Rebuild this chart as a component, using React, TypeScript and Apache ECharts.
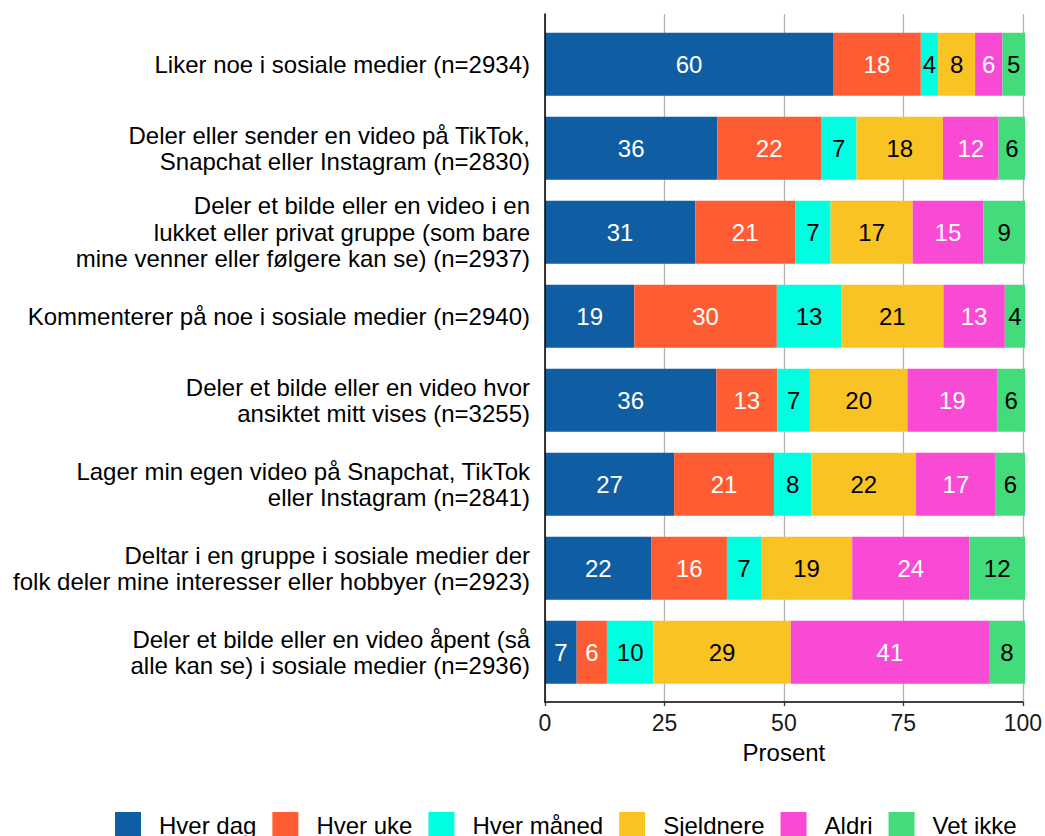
import React, { useEffect, useRef } from "react";
import * as echarts from "echarts";

const categories = [
  "Liker noe i sosiale medier (n=2934)",
  "Deler eller sender en video på TikTok,\nSnapchat eller Instagram (n=2830)",
  "Deler et bilde eller en video i en\nlukket eller privat gruppe (som bare\nmine venner eller følgere kan se) (n=2937)",
  "Kommenterer på noe i sosiale medier (n=2940)",
  "Deler et bilde eller en video hvor\nansiktet mitt vises (n=3255)",
  "Lager min egen video på Snapchat, TikTok\neller Instagram (n=2841)",
  "Deltar i en gruppe i sosiale medier der\nfolk deler mine interesser eller hobbyer (n=2923)",
  "Deler et bilde eller en video åpent (så\nalle kan se) i sosiale medier (n=2936)",
];

const hverDag = [60.0, 35.9, 31.3, 18.6, 35.7, 26.9, 22.2, 6.6];
const hverUke = [18.3, 21.6, 20.8, 29.7, 12.7, 20.8, 15.7, 6.3];
const hverManed = [3.6, 7.4, 7.4, 13.4, 6.8, 7.8, 7.1, 9.7];
const sjeldnere = [7.7, 18.0, 17.1, 21.3, 20.3, 21.8, 19.0, 28.6];
const aldri = [5.7, 11.6, 14.7, 12.8, 18.7, 16.6, 24.4, 41.3];
const vetIkke = [4.7, 5.5, 8.7, 4.2, 5.8, 6.1, 11.6, 7.5];

const seriesNames = ["Hver dag", "Hver uke", "Hver måned", "Sjeldnere", "Aldri", "Vet ikke"];
const seriesData = [hverDag, hverUke, hverManed, sjeldnere, aldri, vetIkke];
const colors = ["#0F5EA3", "#FF5C33", "#00FFE1", "#F9C423", "#F94AD6", "#42DC7A"];
const labelColors = ["#FFFFFF", "#FFFFFF", "#000000", "#000000", "#FFFFFF", "#000000"];

const xTicks = [0, 25, 50, 75, 100];

const FONT = "'Liberation Sans', Arial, sans-serif";

export default function App() {
  const ref = useRef<HTMLDivElement>(null);

  useEffect(() => {
    document.body.style.margin = "0";
    const chart = echarts.init(ref.current!, null, { renderer: "svg" });
    const option: any = {
      animation: false,
      textStyle: { fontFamily: FONT },
      grid: [
        { left: 545, width: 480, top: 14, height: 688, containLabel: false },
        { left: 545, width: 480, top: 22.3, height: 672, containLabel: false },
      ],
      xAxis: [
        {
          gridIndex: 0,
          type: "value",
          min: xTicks[0],
          max: xTicks[xTicks.length - 1],
          interval: 25,
          axisLine: { show: true, onZero: false, lineStyle: { color: "#000", width: 1.5 } },
          axisTick: { show: true, length: 4, lineStyle: { color: "#333", width: 1.3 } },
          axisLabel: { fontSize: 23, color: "#1a1a1a", margin: 9, fontFamily: FONT },
          splitLine: { show: true, lineStyle: { color: "#B3B3B3", width: 1.3 } },
          name: "Prosent",
          nameLocation: "middle",
          nameGap: 38,
          nameTextStyle: { fontSize: 24, color: "#000", fontFamily: FONT },
        },
        {
          gridIndex: 1,
          type: "value",
          min: 0,
          max: 100,
          show: false,
        },
      ],
      yAxis: [
        {
          gridIndex: 0,
          type: "value",
          min: 0,
          max: 1,
          z: 5,
          axisLine: { show: true, onZero: false, lineStyle: { color: "#000", width: 1.5 } },
          axisTick: { show: false },
          axisLabel: { show: false },
          splitLine: { show: false },
        },
        {
          gridIndex: 1,
          type: "category",
          inverse: true,
          data: categories,
          axisLine: { show: false },
          axisTick: { show: false },
          axisLabel: {
            fontSize: 24,
            lineHeight: 26.5,
            color: "#000",
            margin: 15,
            align: "right",
            fontFamily: FONT,
          },
          splitLine: { show: false },
        },
      ],
      legend: {
        left: 110,
        top: 807,
        icon: "rect",
        itemWidth: 26,
        itemHeight: 26,
        itemGap: 16,
        data: seriesNames,
        textStyle: { fontSize: 24, color: "#000", padding: [0, 0, 0, 13], fontFamily: FONT },
      },
      series: seriesNames.map((name, i) => ({
        name,
        type: "bar",
        stack: "total",
        xAxisIndex: 1,
        yAxisIndex: 1,
        barWidth: 63,
        data: seriesData[i],
        itemStyle: { color: colors[i] },
        label: {
          show: true,
          position: "inside",
          fontSize: 24,
          color: labelColors[i],
          fontFamily: FONT,
          formatter: (p: any) => String(Math.round(p.value)),
        },
      })),
    };
    chart.setOption(option);
    return () => chart.dispose();
  }, []);

  return (
    <div
      ref={ref}
      style={{ position: "absolute", left: 0, top: 0, width: 1045, height: 836, background: "#fff" }}
    />
  );
}
